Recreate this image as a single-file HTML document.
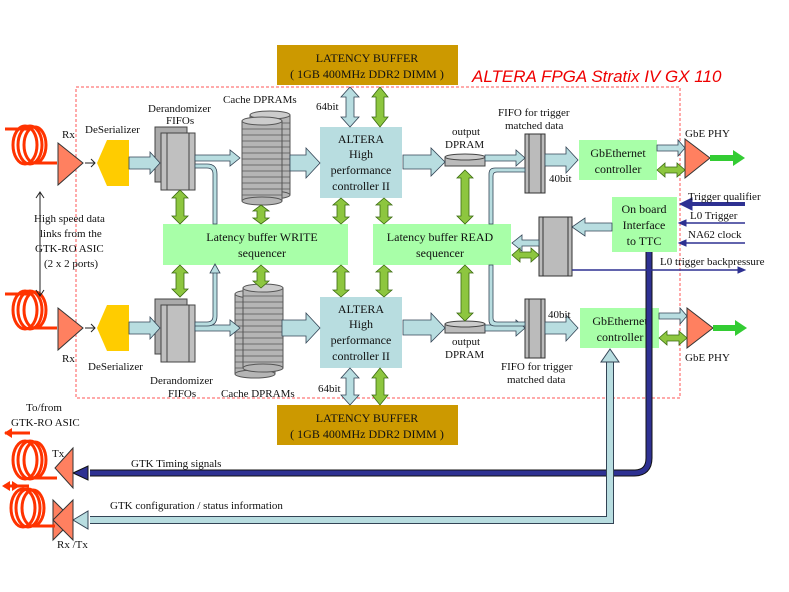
<!DOCTYPE html>
<html><head><meta charset="utf-8"><style>
html,body{margin:0;padding:0;background:#fff}
svg{display:block}
text{font-family:"Liberation Serif",serif;fill:#111}
</style></head><body>
<svg width="789" height="592" viewBox="0 0 789 592" xmlns="http://www.w3.org/2000/svg">
<defs>
<g id="cyl">
 <rect x="0" y="0" width="40" height="80" fill="#b5b5b5" stroke="#555"/>
 <path d="M0 8h40M0 14h40M0 20h40M0 26h40M0 32h40M0 38h40M0 44h40M0 50h40M0 56h40M0 62h40M0 68h40M0 74h40" stroke="#555" stroke-width="0.8"/>
 <ellipse cx="20" cy="0" rx="20" ry="4" fill="#ccc" stroke="#555"/>
 <ellipse cx="20" cy="80" rx="20" ry="4" fill="#b5b5b5" stroke="#555"/>
</g>
<g id="fifo">
 <rect x="0" y="0" width="32" height="55" fill="#aaa" stroke="#444"/>
 <rect x="6" y="6" width="34" height="57" fill="#c0c0c0" stroke="#444"/>
 <path d="M12 6v57M34 6v57" stroke="#444"/>
</g>
<g id="coil" fill="none" stroke="#ff3300" stroke-width="3">
 <ellipse cx="30" cy="20" rx="12" ry="19"/><ellipse cx="35" cy="20" rx="12" ry="19"/><ellipse cx="40" cy="20" rx="11" ry="18"/>
 <path d="M40 38h22"/>
</g>
</defs>

<rect x="277" y="45" width="181" height="40" fill="#cc9900"/>
<text x="367" y="62" font-size="12" text-anchor="middle">LATENCY BUFFER</text>
<text x="367" y="78" font-size="12" text-anchor="middle">( 1GB 400MHz DDR2 DIMM )</text>
<rect x="277" y="405" width="181" height="40" fill="#cc9900"/>
<text x="367" y="422" font-size="12" text-anchor="middle">LATENCY BUFFER</text>
<text x="367" y="438" font-size="12" text-anchor="middle">( 1GB 400MHz DDR2 DIMM )</text>

<text x="472" y="82" font-size="17" font-style="italic" style="font-family:'Liberation Sans',sans-serif;fill:#e00">ALTERA FPGA Stratix IV GX 110</text>
<rect x="76" y="87" width="604" height="311" fill="none" stroke="#f55" stroke-dasharray="3,2"/>

<rect x="320" y="127" width="82" height="71" fill="#b8dde0"/>
<text font-size="12" text-anchor="middle"><tspan x="361" y="143">ALTERA</tspan><tspan x="361" y="158">High</tspan><tspan x="361" y="174">performance</tspan><tspan x="361" y="190">controller II</tspan></text>
<rect x="320" y="297" width="82" height="71" fill="#b8dde0"/>
<text font-size="12" text-anchor="middle"><tspan x="361" y="313">ALTERA</tspan><tspan x="361" y="328">High</tspan><tspan x="361" y="344">performance</tspan><tspan x="361" y="360">controller II</tspan></text>

<rect x="163" y="224" width="185" height="41" fill="#a8ffa8"/>
<text font-size="12" text-anchor="middle"><tspan x="262" y="241">Latency buffer WRITE</tspan><tspan x="262" y="257">sequencer</tspan></text>
<rect x="373" y="224" width="138" height="41" fill="#a8ffa8"/>
<text font-size="12" text-anchor="middle"><tspan x="440" y="241">Latency buffer READ</tspan><tspan x="440" y="257">sequencer</tspan></text>

<rect x="579" y="140" width="78" height="40" fill="#a8ffa8"/>
<text font-size="12" text-anchor="middle"><tspan x="618" y="157">GbEthernet</tspan><tspan x="618" y="173">controller</tspan></text>
<rect x="580" y="308" width="79" height="40" fill="#a8ffa8"/>
<text font-size="12" text-anchor="middle"><tspan x="620" y="325">GbEthernet</tspan><tspan x="620" y="341">controller</tspan></text>
<rect x="612" y="197" width="65" height="55" fill="#a8ffa8"/>
<text font-size="12" text-anchor="middle"><tspan x="644" y="213">On board</tspan><tspan x="644" y="229">Interface</tspan><tspan x="644" y="245">to TTC</tspan></text>

<path d="M649 252V458q0 15 -15 15H90" fill="none" stroke="#111" stroke-width="7"/>
<path d="M649 252V458q0 15 -15 15H90" fill="none" stroke="#2e3192" stroke-width="5"/>
<polygon points="73,473 88,466 88,480" fill="#2e3192" stroke="#111"/>
<path d="M610 360V520H90" fill="none" stroke="#345" stroke-width="8"/>
<path d="M610 360V520H90" fill="none" stroke="#b8dde0" stroke-width="6"/>
<polygon points="610,349 601,362 619,362" fill="#b8dde0" stroke="#345"/>
<polygon points="73,520 88,511 88,529" fill="#b8dde0" stroke="#345"/>

<rect x="525" y="134" width="20" height="59" fill="#bbb" stroke="#333"/><path d="M529 134v59M541 134v59" stroke="#333"/>
<rect x="525" y="299" width="20" height="59" fill="#bbb" stroke="#333"/><path d="M529 299v59M541 299v59" stroke="#333"/>
<rect x="539" y="217" width="33" height="59" fill="#bbb" stroke="#333"/><path d="M543 217v59M568 217v59" stroke="#333"/>

<rect x="445" y="157" width="40" height="9" fill="#bbb" stroke="#444"/><ellipse cx="465" cy="157" rx="20" ry="3" fill="#ccc" stroke="#444"/>
<rect x="445" y="324" width="40" height="9" fill="#bbb" stroke="#444"/><ellipse cx="465" cy="324" rx="20" ry="3" fill="#ccc" stroke="#444"/>

<use href="#cyl" x="250" y="115"/><use href="#cyl" x="242" y="121"/>
<use href="#cyl" x="235" y="294"/><use href="#cyl" x="243" y="288"/>
<use href="#fifo" x="155" y="127"/>
<use href="#fifo" x="155" y="299"/>

<polygon points="97,163 107,140 129,140 129,186 107,186" fill="#ffcc00"/>
<polygon points="97,328 107,305 129,305 129,351 107,351" fill="#ffcc00"/>
<path d="M85 163h10M91 159l4 4-4 4M85 328h10M91 324l4 4-4 4" stroke="#222" fill="none"/>
<polygon points="58,143 83,163 58,185" fill="#ff8060" stroke="#333"/>
<polygon points="58,308 83,328 58,350" fill="#ff8060" stroke="#333"/>
<use href="#coil" x="-5" y="125"/><use href="#coil" x="-5" y="290"/>
<path d="M5 129h25M5 294h25" stroke="#ff3300" stroke-width="3"/>
<polygon points="73,448 55,468 73,488" fill="#ff8060" stroke="#333"/>
<use href="#coil" x="-5" y="440"/><path d="M5 433h25" stroke="#ff3300" stroke-width="3"/>
<polygon points="4,433 12,428 12,438" fill="#ff3300"/>
<polygon points="53,500 73,520 53,540" fill="#ff8060" stroke="#333"/><polygon points="73,500 53,520 73,540" fill="#ff8060" stroke="#333"/>
<use href="#coil" x="-7" y="488"/><path d="M4 486h25" stroke="#ff3300" stroke-width="3"/>
<polygon points="2,486 10,481 10,491" fill="#ff3300"/><polygon points="20,486 12,481 12,491" fill="#ff3300"/>

<polygon points="685,139 710,158 685,178" fill="#ff8060" stroke="#333"/>
<polygon points="687,308 713,328 687,348" fill="#ff8060" stroke="#333"/>
<polygon points="710,155 733,155 733,150 745,158 733,166 733,161 710,161" fill="#33cc33"/>
<polygon points="713,325 735,325 735,320 747,328 735,336 735,331 713,331" fill="#33cc33"/>

<g fill="#b8dde0" stroke="#345" stroke-width="0.8">
<polygon points="129,157 150,157 150,152 160,163 150,174 150,169 129,169"/>
<polygon points="129,322 150,322 150,317 160,328 150,339 150,334 129,334"/>
<polygon points="195,155 230,155 230,150 240,158 230,166 230,161 195,161"/>
<polygon points="195,325 230,325 230,320 240,328 230,336 230,331 195,331"/>
<polygon points="290,155 306,155 306,148 320,163 306,178 306,171 290,171"/>
<polygon points="282,320 306,320 306,313 320,328 306,343 306,336 282,336"/>
<polygon points="403,155 431,155 431,148 445,162 431,176 431,169 403,169"/>
<polygon points="403,320 431,320 431,313 445,328 431,342 431,335 403,335"/>
<polygon points="485,155 516,155 516,150 525,158 516,166 516,161 485,161"/>
<polygon points="485,325 516,325 516,320 525,328 516,336 516,331 485,331"/>
<polygon points="545,154 566,154 566,147 578,160 566,173 566,166 545,166"/>
<polygon points="545,322 566,322 566,315 578,328 566,341 566,334 545,334"/>
<polygon points="657,145 678,145 678,140 685,148 678,156 678,151 657,151"/>
<polygon points="659,313 680,313 680,308 687,316 680,324 680,319 659,319"/>
<polygon points="612,223 585,223 585,218 572,227 585,236 585,231 612,231"/>
<polygon points="539,240 522,240 522,235 512,243 522,251 522,246 539,246"/>
<polygon points="350,87 359,97 354,97 354,117 359,117 350,127 341,117 346,117 346,97 341,97"/>
<polygon points="350,368 359,378 354,378 354,395 359,395 350,405 341,395 346,395 346,378 341,378"/>
<path d="M195 168h12q6 0 6 6V224h4V174q0-10-10-10h-12z"/>
<path d="M195 322h12q6 0 6-6V272h4v44q0 10-10 10h-12z"/>
<polygon points="215,264 210,273 220,273"/>
<path d="M525 168h-30q-6 0-6 6V224h4V176q0-4 4-4h28z"/>
<path d="M525 326h-30q-6 0-6-6V265h4v53q0 4 4 4h28z"/>
</g>

<g fill="#8dc63f" stroke="#3a6a10" stroke-width="0.8">
<polygon points="180,190 188,198 184,198 184,216 188,216 180,224 172,216 176,216 176,198 172,198"/>
<polygon points="180,265 188,273 184,273 184,289 188,289 180,297 172,289 176,289 176,273 172,273"/>
<polygon points="261,205 269,211 265,211 265,218 269,218 261,224 253,218 257,218 257,211 253,211"/>
<polygon points="261,265 269,272 265,272 265,281 269,281 261,288 253,281 257,281 257,272 253,272"/>
<polygon points="341,198 349,205 345,205 345,217 349,217 341,224 333,217 337,217 337,205 333,205"/>
<polygon points="384,198 392,205 388,205 388,217 392,217 384,224 376,217 380,217 380,205 376,205"/>
<polygon points="341,265 349,272 345,272 345,290 349,290 341,297 333,290 337,290 337,272 333,272"/>
<polygon points="384,265 392,272 388,272 388,290 392,290 384,297 376,290 380,290 380,272 376,272"/>
<polygon points="465,170 473,178 469,178 469,216 473,216 465,224 457,216 461,216 461,178 457,178"/>
<polygon points="465,265 473,273 469,273 469,313 473,313 465,321 457,313 461,313 461,273 457,273"/>
<polygon points="380,87 388,97 384,97 384,117 388,117 380,127 372,117 376,117 376,97 372,97"/>
<polygon points="380,368 388,378 384,378 384,395 388,395 380,405 372,395 376,395 376,378 372,378"/>
<polygon points="657,170 665,163 665,167 677,167 677,163 685,170 677,177 677,173 665,173 665,177"/>
<polygon points="659,338 667,331 667,335 679,335 679,331 687,338 679,345 679,341 667,341 667,345"/>
<polygon points="512,255 520,248 520,252 531,252 531,248 539,255 531,262 531,258 520,258 520,262"/>
</g>

<g stroke="#2e3192" fill="#2e3192">
<path d="M745 204H690" stroke-width="4"/><polygon points="680,204 692,198 692,210"/>
<path d="M745 223H684" stroke-width="1.5"/><polygon points="679,223 686,220 686,226"/>
<path d="M745 243H684" stroke-width="1.5"/><polygon points="679,243 686,240 686,246"/>
<path d="M572 270H738" stroke-width="1.5"/><polygon points="745,270 738,267 738,273"/>
</g>
<path d="M40 192V296M36 198l4-6 4 6M36 290l4 6 4-6" stroke="#222" fill="none"/>

<g font-size="11">
<text x="62" y="138">Rx</text><text x="62" y="362">Rx</text>
<text x="85" y="133">DeSerializer</text><text x="88" y="370">DeSerializer</text>
<text x="148" y="112">Derandomizer</text><text x="166" y="124">FIFOs</text>
<text x="150" y="384">Derandomizer</text><text x="168" y="397">FIFOs</text>
<text x="223" y="103">Cache DPRAMs</text><text x="221" y="397">Cache DPRAMs</text>
<text x="316" y="110">64bit</text><text x="318" y="392">64bit</text>
<text x="452" y="135">output</text><text x="445" y="148">DPRAM</text>
<text x="452" y="345">output</text><text x="445" y="358">DPRAM</text>
<text x="498" y="116">FIFO for trigger</text><text x="505" y="129">matched data</text>
<text x="501" y="370">FIFO for trigger</text><text x="507" y="383">matched data</text>
<text x="549" y="182">40bit</text><text x="548" y="318">40bit</text>
<text x="685" y="137">GbE PHY</text><text x="685" y="361">GbE PHY</text>
<text x="688" y="200">Trigger qualifier</text><text x="690" y="219">L0 Trigger</text><text x="688" y="238">NA62 clock</text>
<text x="660" y="265">L0 trigger backpressure</text>
<text x="34" y="222">High speed data</text><text x="40" y="237">links from the</text><text x="35" y="252">GTK-RO ASIC</text><text x="44" y="267">(2 x 2 ports)</text>
<text x="26" y="411">To/from</text><text x="11" y="426">GTK-RO ASIC</text>
<text x="52" y="457">Tx</text><text x="57" y="548">Rx /Tx</text>
<text x="131" y="467">GTK Timing signals</text>
<text x="110" y="509">GTK configuration / status information</text>
</g>
</svg>
</body></html>
